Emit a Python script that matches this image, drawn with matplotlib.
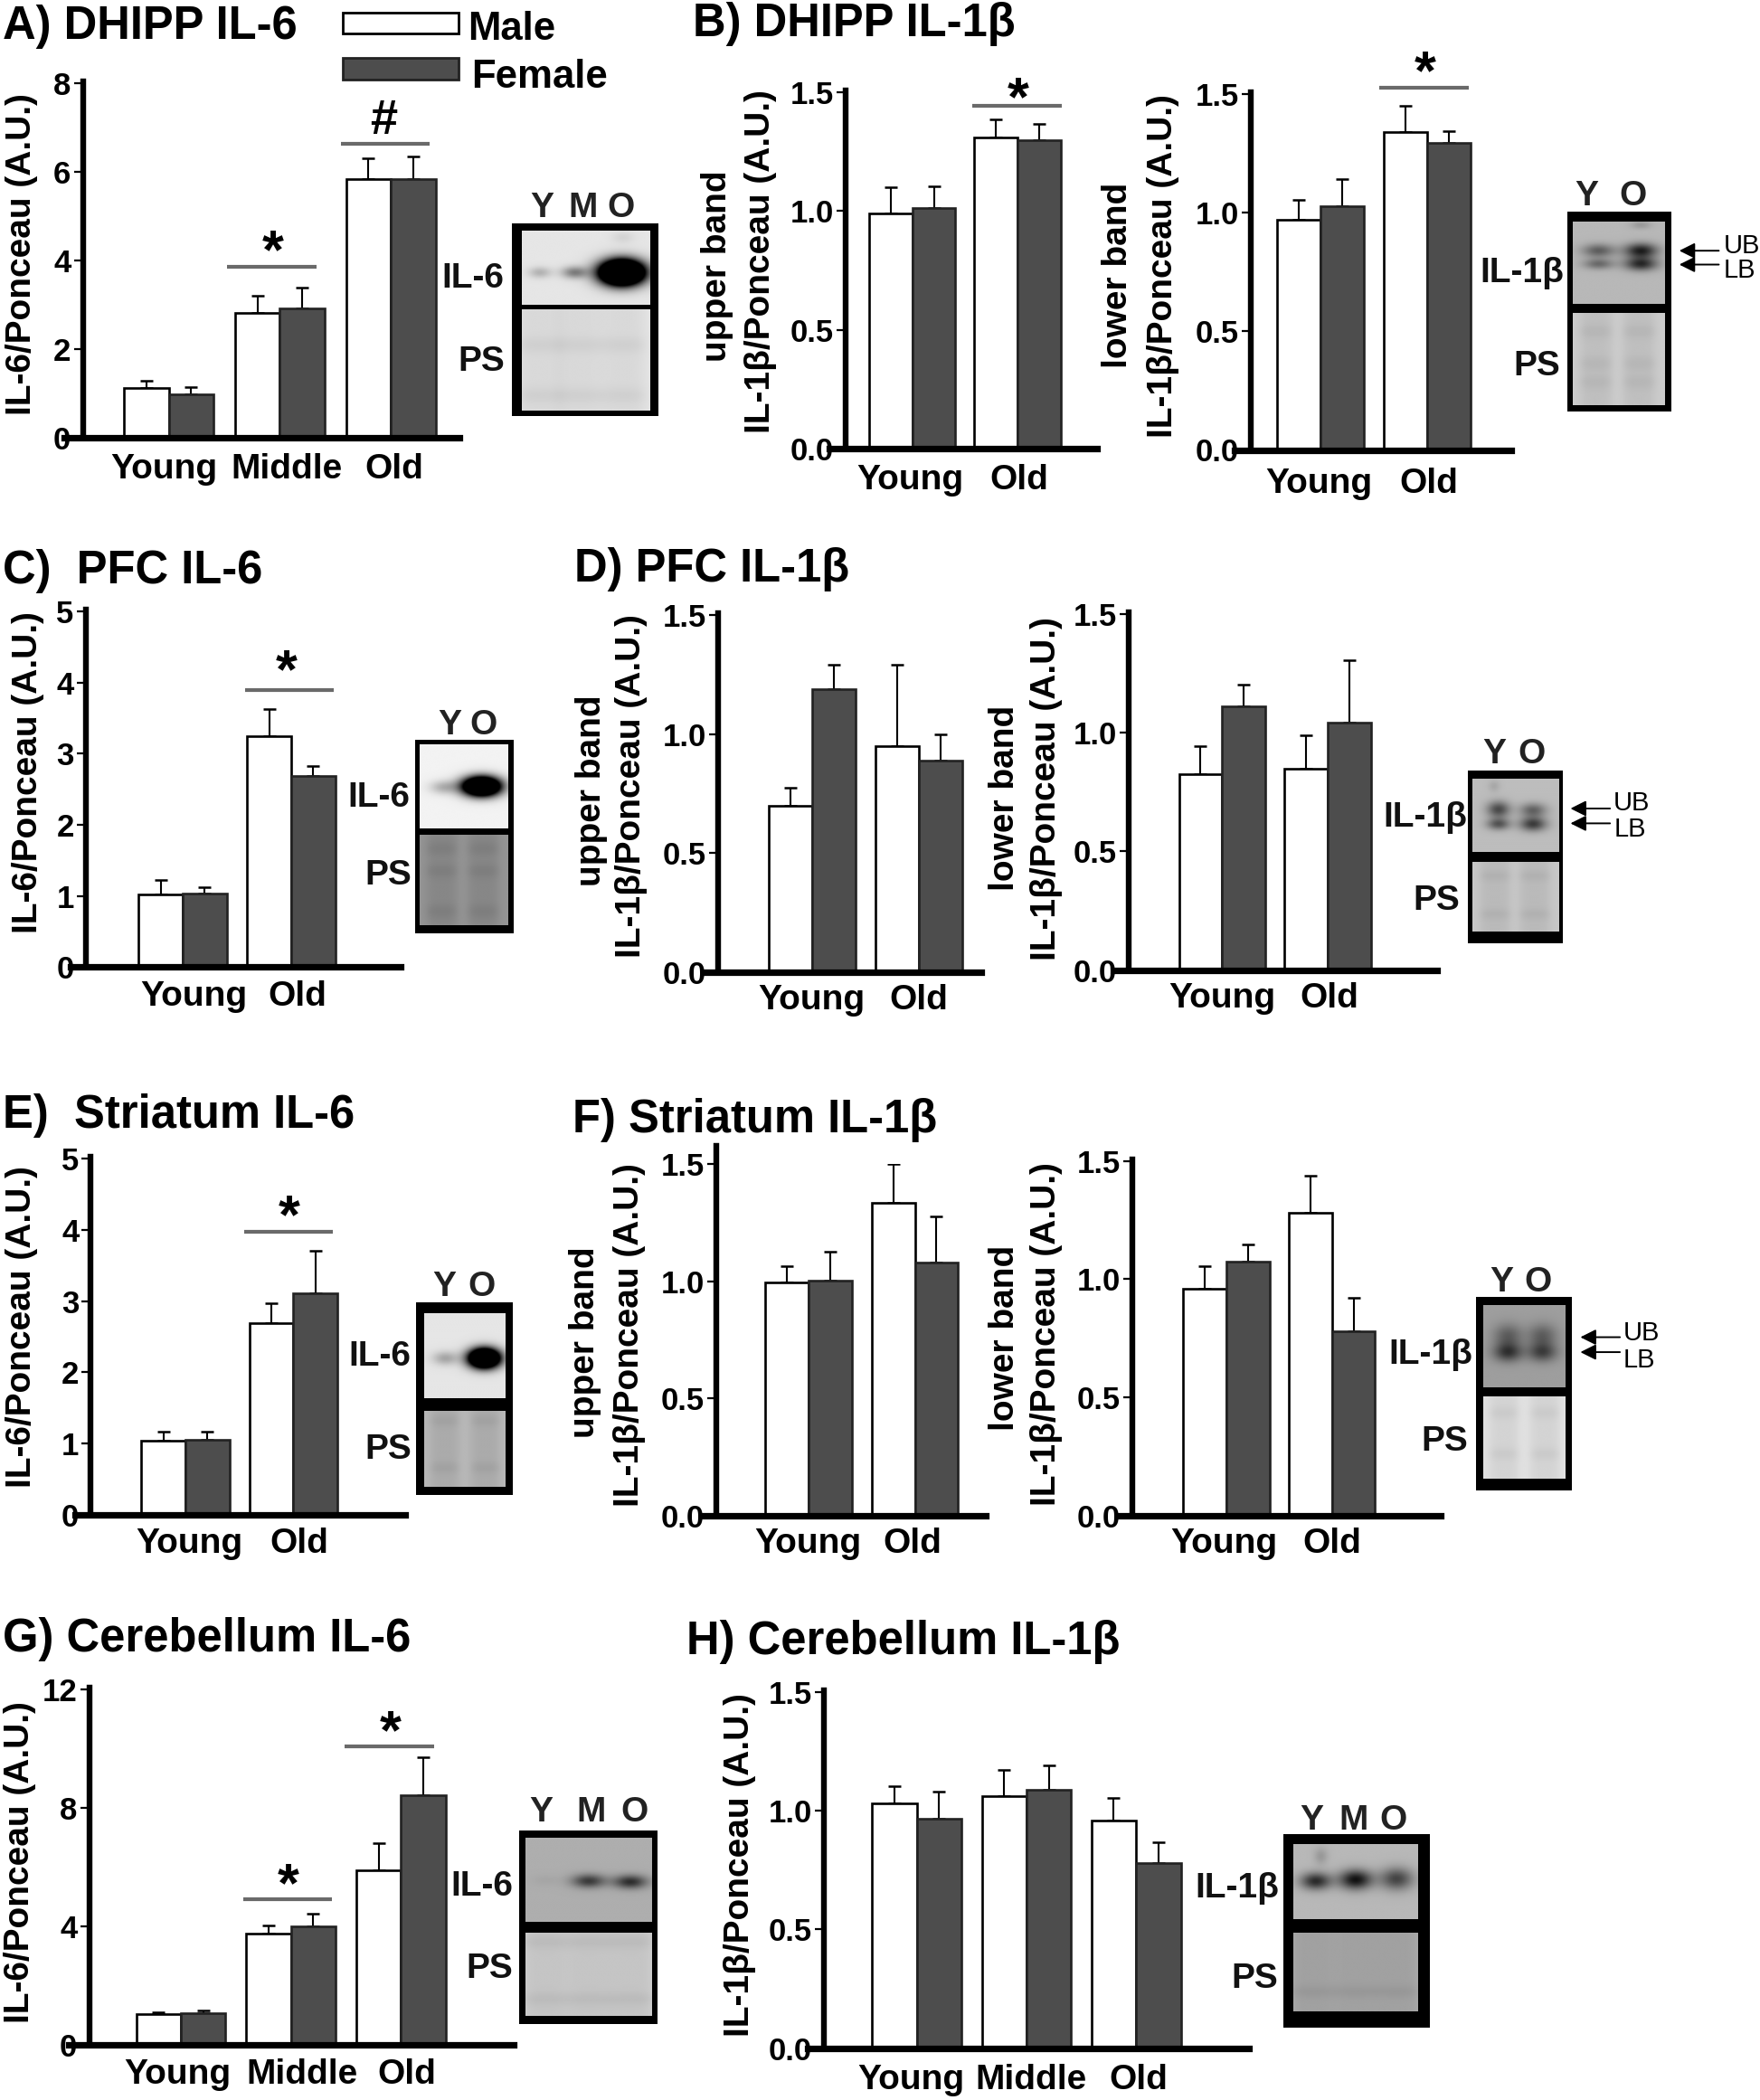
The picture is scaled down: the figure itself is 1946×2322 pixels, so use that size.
import numpy as np
import matplotlib
matplotlib.use("Agg")
import matplotlib.pyplot as plt
from matplotlib.patches import Rectangle, FancyArrowPatch

plt.rcParams['font.family'] = ['Liberation Sans', 'DejaVu Sans']
plt.rcParams['font.weight'] = 'bold'

W, H = 1946, 2322
fig = plt.figure(figsize=(W / 100, H / 100), dpi=100, facecolor='white')

# values: means and top of the error bar
a_male, a_female = [1.11, 2.80, 5.83], [0.98, 2.91, 5.83]
a_male_top, a_female_top = [1.27, 3.20, 6.30], [1.13, 3.38, 6.33]
b1_male, b1_female = [0.99, 1.31], [1.015, 1.30]
b1_male_top, b1_female_top = [1.10, 1.388], [1.104, 1.369]
b2_male, b2_female = [0.971, 1.34], [1.03, 1.294]
b2_male_top, b2_female_top = [1.057, 1.454], [1.144, 1.345]
c_male, c_female = [1.02, 3.245], [1.03, 2.69]
c_male_top, c_female_top = [1.22, 3.63], [1.116, 2.83]
d1_male, d1_female = [0.70, 0.95], [1.19, 0.89]
d1_male_top, d1_female_top = [0.776, 1.29], [1.29, 1.00]
d2_male, d2_female = [0.825, 0.846], [1.11, 1.042]
d2_male_top, d2_female_top = [0.941, 0.987], [1.202, 1.303]
e_male, e_female = [1.04, 2.69], [1.05, 3.11]
e_male_top, e_female_top = [1.17, 2.97], [1.17, 3.71]
f1_male, f1_female = [0.995, 1.334], [1.003, 1.078]
f1_male_top, f1_female_top = [1.065, 1.499], [1.125, 1.278]
f2_male, f2_female = [0.958, 1.281], [1.072, 0.78]
f2_male_top, f2_female_top = [1.053, 1.438], [1.147, 0.92]
g_male, g_female = [1.02, 3.74, 5.90], [1.045, 3.99, 8.42]
g_male_top, g_female_top = [1.10, 4.01, 6.81], [1.15, 4.43, 9.72]
h_male, h_female = [1.03, 1.06, 0.956], [0.966, 1.087, 0.778]
h_male_top, h_female_top = [1.104, 1.171, 1.052], [1.08, 1.19, 0.865]

ticks_a = ['0', '2', '4', '6', '8']
ticks_5 = ['0', '1', '2', '3', '4', '5']
ticks_15 = ['0.0', '0.5', '1.0', '1.5']
ticks_g = ['0', '4', '8', '12']
il6_label = 'IL-6/Ponceau (A.U.)'
il1_label = 'IL-1β/Ponceau (A.U.)'

# blot bands: x, y (fraction of the strip), x size, y size, darkness
a_bands = [(.14, .57, .08, .045, .2), (.41, .57, .09, .05, .4), (.78, .57, .15, .10, 3.0), (.79, .1, .08, .05, .07)]
b_bands = [(.28, .36, .16, .05, .35), (.28, .52, .15, .04, .3), (.74, .36, .16, .055, .6), (.74, .52, .16, .05, .55), (.74, .05, .1, .03, .12)]
c_bands = [(.27, .51, .14, .05, .25), (.70, .50, .19, .07, 2.5)]
d_bands = [(.3, .42, .12, .07, .45), (.3, .62, .12, .05, .4), (.7, .43, .14, .06, .35), (.7, .62, .14, .06, .5), (.25, .1, .06, .05, .08)]
e_bands = [(.26, .53, .14, .05, .25), (.74, .53, .17, .07, 2.5)]
f_bands = [(.3, .38, .16, .09, .25), (.3, .58, .16, .07, .4), (.72, .38, .16, .09, .25), (.72, .58, .16, .07, .35)]
g_bands = [(.16, .51, .1, .04, .03), (.50, .52, .12, .05, .45), (.83, .53, .12, .05, .5)]
h_bands = [(.18, .5, .11, .07, .55), (.5, .48, .12, .08, .65), (.83, .47, .12, .09, .45), (.22, .17, .05, .07, .12)]

crop_x, crop_y = 0, 0
squeeze = 0.995


def fx(x):
    return (crop_x + (x - crop_x) * squeeze) / W


def fy(y):
    return 1 - (crop_y + (y - crop_y) * squeeze) / H


def crop(x0, y0):
    global crop_x, crop_y
    crop_x, crop_y = x0, y0


def txt(x, y, s, size=28, ha='center', va='center', rot=0, weight='bold', color='black'):
    # flat labels sit a little high and left with this font
    if rot == 0 and size < 32 and weight == 'bold':
        x, y = x + 2, y + 3
    fig.text(fx(x), fy(y), s, fontsize=size, ha=ha, va=va, rotation=rot,
             fontweight=weight, color=color)


def box(x1, y1, x2, y2, col, ec='none', lw=0, z=-1):
    fig.add_artist(Rectangle((fx(x1), fy(y2)), fx(x2) - fx(x1), fy(y1) - fy(y2), transform=fig.transFigure,
                             facecolor=col, edgecolor=ec, lw=lw, zorder=z))


def panel(male, female, male_top, female_top, ticks, spine, base, top, right, left,
          first, step, w, sig=(), over=2):
    ax = fig.add_axes([fx(left), fy(base), fx(right) - fx(left), fy(top) - fy(base)])
    ax.patch.set_alpha(0)
    px = lambda p: (p - first) / step
    pos = np.arange(len(male))
    bw = w / step
    ymax = float(ticks[-1])
    for vals, tops, off, col, ec in [(male, male_top, -bw / 2, 'white', 'black'),
                                     (female, female_top, bw / 2, '#4d4d4d', '#222222')]:
        vals = np.array(vals)
        ax.errorbar(pos + off, vals, yerr=[np.zeros(len(vals)), np.array(tops) - vals], fmt='none',
                    ecolor='black', elinewidth=1.5, capsize=5, capthick=1.8, zorder=1)
        ax.bar(pos + off, vals, bw, color=col, edgecolor=ec, linewidth=1.9, zorder=2)
    ax.set_xlim(px(left), px(right))
    ax.set_ylim(0, ymax)
    for s in ['top', 'right']:
        ax.spines[s].set_visible(False)
    ax.spines['left'].set_position(('data', px(spine)))
    ax.spines['left'].set_linewidth(4.6)
    ax.spines['left'].set_bounds(0, ymax + over * ymax / (base - top))
    ax.spines['bottom'].set_linewidth(5.2)
    ax.set_xticks([])
    ax.set_yticks([float(t) for t in ticks])
    ax.set_yticklabels(ticks, fontsize=25, fontweight='bold')
    ax.tick_params(axis='y', length=7, width=1.6, pad=2.5)
    for x1, x2, val in sig:
        ax.plot([px(x1), px(x2)], [val, val], color='#6a6a6a', lw=3, clip_on=False,
                solid_capstyle='butt', zorder=3)
    return ax


def strip(area, bg, bands=(), lanes=(), rows=()):
    x1, y1, x2, y2 = area
    ax = fig.add_axes([fx(x1), fy(y2), fx(x2) - fx(x1), fy(y1) - fy(y2)])
    xx, yy = np.meshgrid(np.linspace(0, 1, 240), np.linspace(0, 1, 240))
    img = np.full(xx.shape, float(bg))
    for cx, cy, sx, sy, amp in bands:
        img -= amp * np.exp(-((xx - cx) / (sx * 1.1)) ** 2 - ((yy - cy) / (sy * 1.6)) ** 2)
    for cx in lanes:
        lane = np.exp(-((xx - cx) / 0.18) ** 4)
        img -= 0.05 * lane
        for cy in rows:
            img -= 0.035 * lane * np.exp(-((yy - cy) / 0.08) ** 2)
    ax.imshow(np.clip(img, 0, 1), cmap='gray', vmin=0, vmax=1, aspect='auto', interpolation='bilinear')
    ax.axis('off')


def blot(outer, upper, lower, bg, bands, ps_bg, lanes, rows, letters, name, name_xy, ps_xy):
    box(*outer, 'black')
    strip(upper, bg, bands)
    strip(lower, ps_bg, lanes=lanes, rows=rows)
    for x, y, s in letters:
        txt(x, y, s, size=28, color='#222222')
    txt(name_xy[0], name_xy[1], name, size=28, ha='right', color='#111111')
    txt(ps_xy[0], ps_xy[1], 'PS', size=28, ha='right', color='#111111')


def arrows(tip, tail, y_ub, y_lb, text_x, t_ub, t_lb):
    for y in (y_ub, y_lb):
        fig.add_artist(FancyArrowPatch((fx(tail), fy(y)), (fx(tip), fy(y)), transform=fig.transFigure,
                                       arrowstyle='-|>', mutation_scale=26, lw=1.4, color='black',
                                       shrinkA=0, shrinkB=0))
    txt(text_x, t_ub, 'UB', size=21, ha='left', weight='normal')
    txt(text_x, t_lb, 'LB', size=21, ha='left', weight='normal')


def star(x, y, s='*'):
    if s == '*':
        txt(x, y + 13, s, size=44)
    else:
        txt(x, y, s, size=39)


# A
crop(0, 0)
txt(3, 30, 'A) DHIPP IL-6', size=36.5, ha='left')
panel(a_male, a_female, a_male_top, a_female_top, ticks_a, 92, 486, 92, 511, 71, 187.5, 123.5, 50,
      sig=[(252, 352, 3.85), (379, 477, 6.62)])
txt(24, 282, il6_label, rot=90)
star(303, 269)
star(426, 134.6, '#')
txt(180, 519, 'Young')
txt(316.6, 519, 'Middle')
txt(436, 519, 'Old')
box(381, 13.6, 510, 37, 'white', 'black', 2, 1)
box(381, 64.7, 510, 88.7, '#4d4d4d', '#222222', 2, 1)
txt(518, 30, 'Male', size=31.5, ha='left')
txt(522, 83, 'Female', size=31.5, ha='left')
blot((569, 248, 732, 462), (580, 256, 722, 339), (580, 344, 722, 456), .90, a_bands, .90, [.14, .45, .79], [.35, .85],
     [(600, 228, 'Y'), (646, 228, 'M'), (688, 228, 'O')], 'IL-6', (558, 307), (559, 399))

# B
crop(740, 0)
txt(766, 27, 'B) DHIPP IL-1β', size=36.5, ha='left')
panel(b1_male, b1_female, b1_male_top, b1_female_top, ticks_15, 936, 498, 103, 1215, 918, 1010, 117, 48,
      sig=[(1077, 1176, 1.444)])
txt(793, 296, 'upper band', rot=90)
txt(842, 291, il1_label, rot=90)
star(1128, 99)
txt(1006, 531, 'Young')
txt(1127, 531, 'Old')
crop(1200, 0)
panel(b2_male, b2_female, b2_male_top, b2_female_top, ticks_15, 1384, 500, 105, 1673, 1366, 1461.5, 118.5, 48,
      sig=[(1527, 1626, 1.529)])
txt(1236, 306, 'lower band', rot=90)
txt(1286, 296, il1_label, rot=90)
star(1578, 70)
txt(1458, 535, 'Young')
txt(1580, 535, 'Old')
blot((1736, 235, 1851, 457), (1742, 246, 1844, 337.5), (1742, 348, 1844, 450), .72, b_bands, .80, [.25, .72], [.2, .55, .75],
     [(1755, 215, 'Y'), (1807, 215, 'O')], 'IL-1β', (1730, 301), (1726, 404))
arrows(1860, 1904, 278.6, 294, 1909, 273, 301)

# C
crop(0, 590)
txt(3, 632, 'C)  PFC IL-6', size=36.5, ha='left')
panel(c_male, c_female, c_male_top, c_female_top, ticks_5, 95.3, 1071.6, 676.5, 445, 78, 203, 120.7, 49,
      sig=[(272, 371, 3.9)])
txt(31, 855.6, il6_label, rot=90)
star(318, 732)
txt(213.6, 1102, 'Young')
txt(328.7, 1102, 'Old')
blot((461, 819.4, 570.5, 1034), (466, 824.6, 564, 917.7), (466, 925, 564, 1025), .95, c_bands, .58, [.25, .72], [.15, .4, .85],
     [(498, 800, 'Y'), (535, 800, 'O')], 'IL-6', (454, 880.6), (455, 967))

# D
crop(620, 590)
txt(635, 630, 'D) PFC IL-1β', size=36.5, ha='left')
panel(d1_male, d1_female, d1_male_top, d1_female_top, ticks_15, 795, 1077, 680.7, 1087.5, 779, 899.6, 118.4, 48)
txt(654, 876, 'upper band', rot=90)
txt(698, 870, il1_label, rot=90)
txt(897, 1105.5, 'Young')
txt(1016, 1105.5, 'Old')
panel(d2_male, d2_female, d2_male_top, d2_female_top, ticks_15, 1251.5, 1075, 679, 1594, 1234, 1355, 117.5, 48)
txt(1113, 884, 'lower band', rot=90)
txt(1160, 873, il1_label, rot=90)
txt(1353, 1104, 'Young')
txt(1472, 1104, 'Old')
blot((1628, 853.7, 1734, 1045), (1633, 862.6, 1728.6, 943.6), (1633, 955, 1728.6, 1032), .74, d_bands, .78, [.26, .72], [.2, .75],
     [(1655, 832, 'Y'), (1697, 832, 'O')], 'IL-1β', (1625, 903), (1617, 995.5))
arrows(1742, 1786, 895.5, 912, 1790, 889, 919)

# E
crop(0, 1190)
txt(3, 1234, 'E)  Striatum IL-6', size=36.5, ha='left')
panel(e_male, e_female, e_male_top, e_female_top, ticks_5, 101, 1677, 1281.7, 450.6, 83, 206, 120, 49,
      sig=[(271, 370, 3.97)])
txt(24.6, 1468.5, il6_label, rot=90)
star(321.6, 1335)
txt(208, 1707, 'Young')
txt(330, 1707, 'Old')
blot((462.5, 1441, 569.7, 1655), (471, 1453.7, 560.6, 1547.4), (471, 1562, 560.6, 1646), .90, e_bands, .72, [.25, .75], [.13, .75],
     [(492, 1421, 'Y'), (533, 1421, 'O')], 'IL-6', (455, 1499), (455, 1602))

# F
crop(620, 1190)
txt(633, 1239, 'F) Striatum IL-1β', size=36.5, ha='left')
panel(f1_male, f1_female, f1_male_top, f1_female_top, ticks_15, 792.6, 1678, 1287.6, 1092.6, 777, 895.4, 118.1, 48, over=20)
txt(647, 1486, 'upper band', rot=90)
txt(696.5, 1478, il1_label, rot=90)
txt(893, 1707, 'Young')
txt(1009, 1707, 'Old')
panel(f2_male, f2_female, f2_male_top, f2_female_top, ticks_15, 1255, 1678, 1284, 1597.5, 1239, 1359.5, 117.5, 48)
txt(1113, 1480.6, 'lower band', rot=90)
txt(1160, 1476, il1_label, rot=90)
txt(1355, 1707, 'Young')
txt(1475, 1707, 'Old')
blot((1637.5, 1435.7, 1743.7, 1650), (1645, 1444, 1736, 1536), (1645, 1546, 1736, 1637), .62, f_bands, .88, [.25, .75], [.2, .7],
     [(1664, 1416.6, 'Y'), (1704, 1416.6, 'O')], 'IL-1β', (1631, 1497), (1626, 1593))
arrows(1753, 1797, 1480, 1496.6, 1801, 1475.5, 1505.6)

# G
crop(0, 1780)
txt(3, 1813, 'G) Cerebellum IL-6', size=36.5, ha='left')
panel(g_male, g_female, g_male_top, g_female_top, ticks_g, 99, 2263, 1868.6, 571, 76.5, 201, 122.3, 49.7,
      sig=[(270, 369, 4.92), (383, 482, 10.08)])
txt(22, 2060, il6_label, rot=90)
star(320.4, 2075)
star(434, 1905)
txt(195, 2293.5, 'Young')
txt(334, 2293.5, 'Middle')
txt(450, 2293.5, 'Old')
blot((577, 2025, 730.5, 2240), (584.4, 2033, 724.7, 2127), (584.4, 2138.5, 724.7, 2231), .68, g_bands, .82, [.16, .5, .83], [.12, .8],
     [(599, 2002, 'Y'), (655, 2002, 'M'), (703, 2002, 'O')], 'IL-6', (568, 2084.7), (568, 2175.6))

# H
crop(760, 1780)
txt(759, 1816, 'H) Cerebellum IL-1β', size=36.5, ha='left')
panel(h_male, h_female, h_male_top, h_female_top, ticks_15, 912, 2267, 1871, 1384, 894, 1015, 121.85, 49.7)
txt(818, 2063.5, il1_label, rot=90)
txt(1007, 2300, 'Young')
txt(1140, 2300, 'Middle')
txt(1259, 2300, 'Old')
blot((1422, 2029, 1585.4, 2244), (1433, 2040, 1571.6, 2124), (1433, 2139, 1571.6, 2226), .72, h_bands, .68, [.16, .5, .83], [.75],
     [(1452, 2011, 'Y'), (1498, 2011, 'M'), (1542, 2011, 'O')], 'IL-1β', (1416, 2087), (1414, 2186.7))

fig.savefig('out.png', dpi=100, facecolor='white')
